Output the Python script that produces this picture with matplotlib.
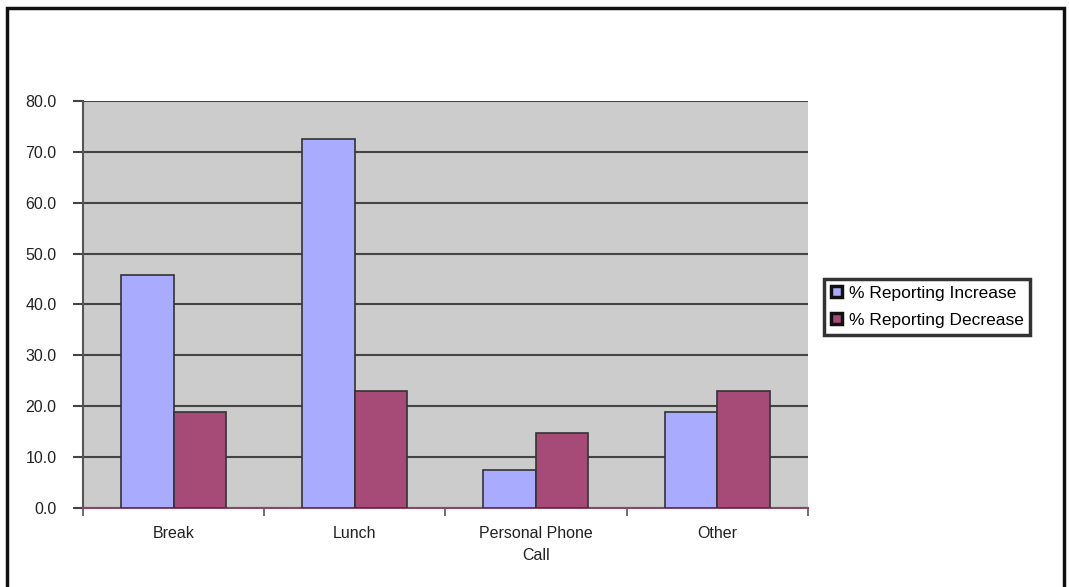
import matplotlib.pyplot as plt
import numpy as np
from matplotlib.patches import Rectangle

plt.rcParams['font.family'] = ['Liberation Sans', 'DejaVu Sans']

# data
categories = ["Break", "Lunch", "Personal Phone\nCall", "Other"]
pct_increase = [45.7, 72.5, 7.5, 18.8]
pct_decrease = [18.8, 22.9, 14.8, 22.9]
series_names = ["% Reporting Increase", "% Reporting Decrease"]
yticks = [0, 10, 20, 30, 40, 50, 60, 70, 80]

inc_color = '#A9ABFE'
dec_color = '#A64A77'

fig = plt.figure(figsize=(10.69, 5.87), dpi=100)
ax = fig.add_axes([0.0776, 0.1346, 0.678, 0.6934])
ax.set_facecolor('#CCCCCC')

x = np.arange(len(categories))
w = 0.29
b1 = ax.bar(x - w / 2, pct_increase, w, color=inc_color, edgecolor='#333333', linewidth=1.2, zorder=3)
b2 = ax.bar(x + w / 2, pct_decrease, w, color=dec_color, edgecolor='#333333', linewidth=1.2, zorder=3)

ax.set_xlim(-0.5, len(categories) - 0.5)
ax.set_ylim(0, 80)
ax.set_yticks(yticks)
ax.set_yticklabels([f"{v:.1f}" for v in yticks], fontsize=11.5, color='#222222')
ax.yaxis.grid(True, color='#444444', linewidth=1.5, zorder=1)
ax.set_axisbelow(True)

# category labels centered, ticks at boundaries
ax.set_xticks(x)
ax.set_xticklabels(categories, fontsize=11.5, color='#222222', linespacing=1.6)
ax.tick_params(axis='x', length=0, pad=13)
ax.set_xticks(np.arange(len(categories) + 1) - 0.5, minor=True)
ax.tick_params(axis='x', which='minor', length=6, width=1.2, color='#555555')
ax.tick_params(axis='y', length=7, width=1.5, color='#444444', pad=12)

for s in ['top', 'right']:
    ax.spines[s].set_visible(False)
ax.spines['left'].set_color('#555555')
ax.spines['left'].set_linewidth(1.5)
ax.spines['bottom'].set_color('#8A4A66')
ax.spines['bottom'].set_linewidth(1.5)

leg = fig.legend([b1, b2], series_names, loc='center left',
                 bbox_to_anchor=(0.771, 0.477), fontsize=12.5, frameon=True,
                 fancybox=False, edgecolor='black', borderpad=0.4,
                 handlelength=0.6, handleheight=0.6, handletextpad=0.4,
                 labelspacing=0.7, borderaxespad=0)
leg.get_frame().set_linewidth(2.5)
for h in leg.legend_handles:
    h.set_edgecolor('#111111')
    h.set_linewidth(2.5)

# outer chart border
fig.patches.append(Rectangle((0.007, -0.02), 0.988, 1.006, transform=fig.transFigure,
                             fill=False, edgecolor='#111111', linewidth=2.5))

fig.savefig('out.png', dpi=100, facecolor='white')
